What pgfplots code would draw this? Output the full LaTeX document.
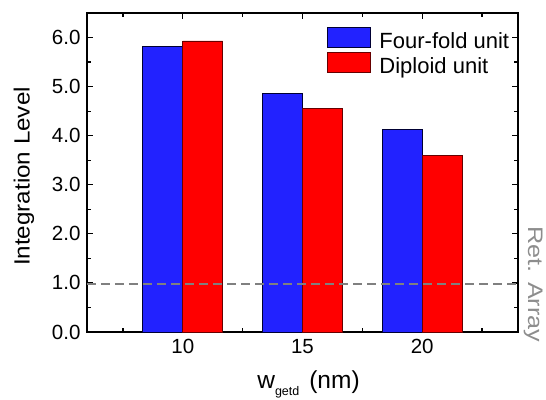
\documentclass[border=0pt]{standalone}
\usepackage{fontspec}
\setmainfont{Liberation Sans}
\usepackage{graphicx}
\usepackage{pgfplots}
\pgfplotsset{compat=1.18}
\definecolor{barblue}{RGB}{34,34,255}
\definecolor{barred}{RGB}{255,0,0}
\definecolor{refgray}{RGB}{128,128,128}
\newcommand\fTick{\fontsize{20.5pt}{24pt}\selectfont}
\newcommand\fYLab{\fontsize{22pt}{26pt}\selectfont}
\newcommand\fXLab{\fontsize{24.5pt}{28pt}\selectfont}
\newcommand\fLeg{\fontsize{22pt}{26pt}\selectfont}
\begin{document}
\begin{tikzpicture}
\begin{axis}[
  name=ax,
  scale only axis,
  width=431pt, height=319pt,
  xmin=6, xmax=24, ymin=0, ymax=6.5,
  ybar=0pt, bar width=1.6667,
  xtick={10,15,20},
  minor xtick={7.5,12.5,17.5,22.5},
  ytick={0,1,2,3,4,5,6},
  minor ytick={0.5,1.5,2.5,3.5,4.5,5.5,6.5},
  yticklabel style={/pgf/number format/fixed, /pgf/number format/fixed zerofill, /pgf/number format/precision=1, xshift=-3pt},
  xticklabel style={yshift=-4pt},
  /pgf/number format/assume math mode=true,
  tick align=inside,
  major tick length=6pt, minor tick length=4pt,
  tick style={black, line width=1.3pt},
  axis line style={line width=1.6pt},
  ticklabel style={font=\fTick},
  every axis x label/.style={at={([xshift=6pt,yshift=-56pt]rel axis cs:0.5,0)}, anchor=base, font=\fXLab},
  every axis y label/.style={at={([xshift=-63pt,yshift=-4pt]rel axis cs:0,0.5)}, anchor=center, rotate=90, font=\fYLab},
  ylabel={\scalebox{1.1}[1]{Integration Level}},
  xlabel={w\raisebox{-7pt}{\fontsize{12.5pt}{14pt}\selectfont getd}\hspace{10pt}(nm)},
  legend cell align=left,
  legend style={at={(rel axis cs:0.5568,0.956)}, anchor=north west, draw=none, fill=none,
    font=\fLeg, inner sep=0pt, row sep=2pt,
    nodes={inner sep=0pt},
    /tikz/every odd column/.append style={column sep=8.5pt}},
  legend image code/.code={\draw[#1, line width=0.8pt] (0pt,-6pt) rectangle (43pt,14pt);},
]
\addplot[fill=barblue, draw=black!80!blue, line width=0.8pt] coordinates {(10,5.82) (15,4.86) (20,4.13)};
\addplot[fill=barred, draw=black!60!red, line width=0.8pt] coordinates {(10,5.93) (15,4.56) (20,3.60)};
\legend{Four-fold unit, Diploid unit}
\addplot[forget plot, sharp plot, refgray, line width=2pt, dash pattern=on 9pt off 5pt] coordinates {(6,0.97) (24,0.97)};
\coordinate (ret) at (axis cs:24,0.97);
\end{axis}
\node[rotate=-90, anchor=south, text=refgray!90, font=\fontsize{21pt}{24pt}\selectfont, inner sep=0pt] at ([xshift=5.5pt]ret) {\scalebox{1.2}[1]{Ret. Array}};
\pgfresetboundingbox
\path[use as bounding box] ([shift={(-87pt,-67pt)}]ax.south west) rectangle ([shift={(28pt,13pt)}]ax.north east);
\end{tikzpicture}
\end{document}
